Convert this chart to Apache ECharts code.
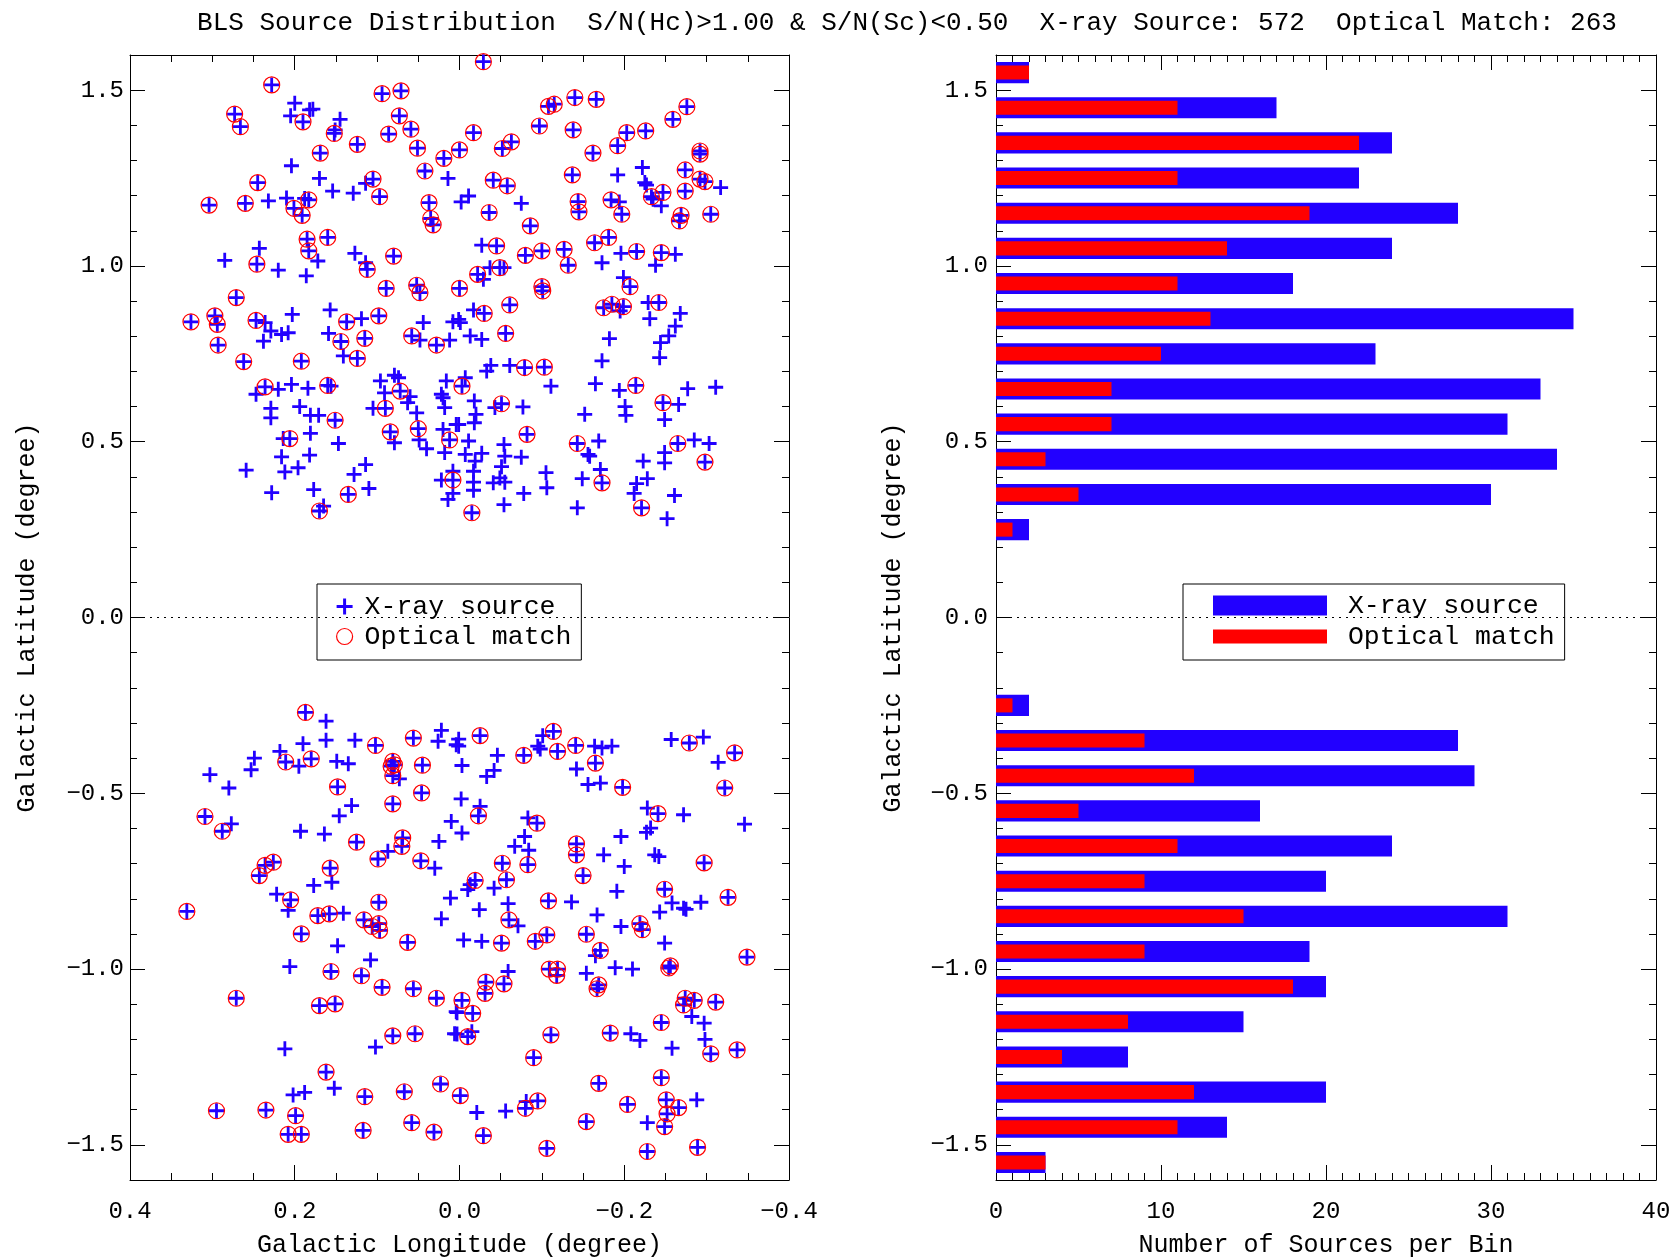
<!DOCTYPE html>
<html lang="en">
<head>
  <meta charset="UTF-8">
  <title>BLS Source Distribution</title>
  <style>
    html, body { margin: 0; padding: 0; background: #fff; }
    #chart { width: 1674px; height: 1257px; }
  </style>
</head>
<body>
<div id="chart"></div>
<script src="https://cdn.jsdelivr.net/npm/echarts@6/dist/echarts.min.js"></script>
<script>
  // X-ray sources with an optical match [l, b] (degree)
  const matchedSources = [
    [0.228,1.515],[0.273,1.432],[0.266,1.396],[0.190,1.410],[0.152,1.377],[0.124,1.346],[0.169,1.321],[0.094,1.490],[0.071,1.498],[0.073,1.427],
    [0.059,1.389],[0.086,1.375],[0.051,1.335],[0.019,1.306],[0.000,1.330],[0.042,1.270],[0.245,1.237],[0.105,1.247],[0.097,1.197],[0.304,1.173],
    [0.260,1.178],[0.183,1.188],[0.201,1.164],[0.191,1.144],[0.037,1.180],[0.035,1.135],[0.032,1.117],[0.185,1.076],[0.160,1.081],[0.183,1.043],
    [0.246,1.005],[0.112,0.990],[0.080,1.028],[0.089,0.936],[0.052,0.945],[0.048,0.924],[0.000,0.936],
    [-0.029,1.581],[-0.108,1.454],[-0.115,1.460],[-0.140,1.479],[-0.166,1.474],[-0.259,1.417],[-0.276,1.453],[-0.017,1.379],[-0.097,1.398],[-0.138,1.387],
    [-0.203,1.379],[-0.226,1.384],[-0.192,1.342],[-0.162,1.321],[-0.052,1.334],[-0.063,1.353],[-0.292,1.327],[-0.292,1.318],[-0.274,1.273],[-0.137,1.259],
    [-0.292,1.247],[-0.298,1.240],[-0.247,1.209],[-0.274,1.213],[-0.233,1.197],[-0.269,1.144],[-0.267,1.128],[-0.305,1.147],[-0.041,1.244],[-0.058,1.228],
    [-0.036,1.152],[-0.144,1.183],[-0.145,1.154],[-0.184,1.188],[-0.197,1.147],[-0.086,1.114],[-0.045,1.057],[-0.080,1.030],[-0.100,1.043],[-0.127,1.047],
    [-0.132,1.002],[-0.164,1.066],[-0.181,1.081],[-0.215,1.041],[-0.245,1.038],[-0.022,0.976],[-0.049,0.995],[-0.207,0.941],[-0.100,0.941],[-0.101,0.929],
    [0.271,0.910],[0.326,0.841],[0.297,0.858],[0.294,0.834],[0.293,0.775],[0.262,0.728],[0.247,0.845],[0.192,0.729],[0.137,0.841],[0.144,0.785],
    [0.124,0.737],[0.115,0.794],[0.098,0.858],[0.058,0.801],[0.028,0.775],[0.236,0.656],[0.160,0.660],[0.151,0.561],[0.206,0.509],[0.170,0.303],
    [0.135,0.350],[0.072,0.644],[0.090,0.595],[0.084,0.528],[0.050,0.537],[0.012,0.505],[0.008,0.391],
    [-0.030,0.865],[-0.061,0.889],[-0.056,0.808],[-0.175,0.881],[-0.185,0.891],[-0.199,0.884],[-0.242,0.896],[-0.079,0.711],[-0.103,0.712],[-0.003,0.658],
    [-0.214,0.660],[-0.051,0.608],[-0.247,0.611],[-0.082,0.521],[-0.015,0.298],[-0.143,0.495],[-0.173,0.383],[-0.221,0.312],[-0.265,0.495],[-0.298,0.442],
    [0.187,-0.270],[0.211,-0.411],[0.180,-0.402],[0.102,-0.364],[0.056,-0.343],[0.081,-0.409],[0.083,-0.423],[0.079,-0.419],[0.081,-0.450],[0.045,-0.420],
    [0.046,-0.499],[0.081,-0.530],[0.148,-0.482],[0.309,-0.566],[0.288,-0.608],[0.125,-0.639],[0.069,-0.627],[0.070,-0.651],[0.099,-0.687],[0.047,-0.692],
    [0.243,-0.734],[0.236,-0.705],[0.226,-0.696],[0.157,-0.713],[0.205,-0.803],[0.331,-0.836],[0.172,-0.848],[0.158,-0.843],[0.098,-0.810],[0.116,-0.860],
    [0.106,-0.879],[0.098,-0.871],[0.097,-0.890],[0.192,-0.900],[0.063,-0.924],
    [-0.025,-0.336],[-0.114,-0.324],[-0.119,-0.381],[-0.078,-0.392],[-0.141,-0.364],[-0.165,-0.414],[-0.198,-0.483],[-0.279,-0.357],[-0.334,-0.385],[-0.322,-0.485],
    [-0.023,-0.564],[-0.094,-0.585],[-0.052,-0.699],[-0.083,-0.703],[-0.057,-0.746],[-0.019,-0.748],[-0.060,-0.860],[-0.108,-0.806],[-0.142,-0.644],[-0.142,-0.675],
    [-0.150,-0.734],[-0.241,-0.558],[-0.297,-0.698],[-0.249,-0.773],[-0.326,-0.796],[-0.219,-0.871],[-0.222,-0.888],[-0.106,-0.903],[-0.154,-0.901],[-0.092,-0.921],
    [-0.051,-0.926],
    [0.156,-1.007],[0.119,-1.019],[0.094,-1.052],[0.056,-1.056],[0.028,-1.083],[0.271,-1.083],[0.170,-1.104],[0.151,-1.099],[0.081,-1.190],[0.054,-1.184],
    [0.162,-1.293],[0.115,-1.363],[0.067,-1.349],[0.023,-1.327],[0.295,-1.403],[0.235,-1.401],[0.199,-1.417],[0.208,-1.470],[0.192,-1.470],[0.117,-1.459],
    [0.058,-1.437],[0.031,-1.464],
    [-0.171,-0.947],[-0.349,-0.966],[-0.109,-1.000],[-0.119,-1.000],[-0.118,-1.018],[-0.256,-0.991],[-0.254,-0.997],[-0.032,-1.037],[-0.031,-1.069],[-0.054,-1.042],
    [-0.169,-1.045],[-0.167,-1.056],[-0.003,-1.089],[-0.016,-1.126],[-0.274,-1.083],[-0.272,-1.102],[-0.285,-1.089],[-0.311,-1.094],[-0.245,-1.152],[-0.010,-1.192],
    [-0.111,-1.187],[-0.183,-1.182],[-0.305,-1.241],[-0.337,-1.230],[-0.090,-1.252],[-0.169,-1.325],[-0.245,-1.309],[-0.001,-1.360],[-0.080,-1.396],[-0.095,-1.375],
    [-0.204,-1.385],[-0.251,-1.372],[-0.266,-1.394],[-0.252,-1.412],[-0.249,-1.448],[-0.154,-1.434],[-0.029,-1.474],[-0.106,-1.510],[-0.228,-1.519],[-0.289,-1.507]
  ];

  // X-ray sources without optical match
  const unmatchedSources = [
    [0.200,1.463],[0.205,1.427],[0.182,1.444],[0.178,1.446],[0.145,1.417],[0.151,1.387],[0.014,1.249],[0.204,1.285],[0.170,1.249],[0.154,1.213],
    [0.129,1.207],[0.114,1.235],[0.232,1.185],[0.210,1.193],[0.188,1.192],[0.172,1.014],[0.243,1.050],[0.285,1.016],[0.220,0.988],[0.186,0.972],
    [0.127,1.036],[0.114,1.009],
    [-0.192,1.259],[-0.222,1.280],[-0.225,1.237],[-0.227,1.230],[-0.317,1.223],[-0.235,1.190],[-0.245,1.171],[-0.011,1.199],[-0.002,1.182],[-0.075,1.178],
    [-0.194,1.182],[-0.027,1.059],[-0.173,1.009],[-0.196,1.036],[-0.262,1.033],[-0.238,1.002],[-0.029,0.962],[-0.037,0.995],[-0.054,0.995],[-0.199,0.967],
    [0.236,0.839],[0.229,0.815],[0.238,0.786],[0.216,0.805],[0.208,0.810],[0.203,0.862],[0.157,0.875],[0.159,0.808],[0.119,0.850],[0.141,0.744],
    [0.044,0.839],[0.048,0.789],[0.012,0.789],[0.008,0.841],[0.247,0.635],[0.220,0.649],[0.204,0.663],[0.184,0.652],[0.156,0.658],[0.229,0.595],
    [0.229,0.568],[0.194,0.600],[0.181,0.575],[0.171,0.575],[0.214,0.509],[0.181,0.524],[0.147,0.495],[0.216,0.457],[0.182,0.462],[0.259,0.419],
    [0.212,0.414],[0.196,0.426],[0.228,0.355],[0.177,0.364],[0.165,0.317],[0.128,0.407],[0.114,0.435],[0.110,0.367],[0.096,0.673],[0.079,0.689],
    [0.074,0.682],[0.091,0.639],[0.060,0.628],[0.063,0.611],[0.105,0.595],[0.052,0.582],[0.079,0.497],[0.049,0.505],[0.040,0.480],[0.016,0.673],
    [0.022,0.635],[0.020,0.625],[0.018,0.597],[0.020,0.535],[0.004,0.549],[0.018,0.469],[0.008,0.416],[0.022,0.391],[0.014,0.336],[0.008,0.353],
    [-0.017,0.875],[0.001,0.848],[-0.001,0.839],[-0.013,0.801],[-0.027,0.791],[-0.195,0.872],[-0.229,0.896],[-0.231,0.850],[-0.268,0.865],[-0.262,0.829],
    [-0.254,0.801],[-0.244,0.782],[-0.243,0.739],[-0.182,0.793],[-0.173,0.730],[-0.033,0.701],[-0.038,0.717],[-0.061,0.717],[-0.111,0.658],[-0.007,0.682],
    [-0.165,0.665],[-0.194,0.646],[-0.277,0.651],[-0.311,0.655],[-0.018,0.616],[-0.020,0.578],[-0.018,0.554],[0.001,0.549],[-0.043,0.597],[-0.077,0.599],
    [-0.152,0.578],[-0.201,0.600],[-0.202,0.575],[-0.266,0.606],[-0.249,0.563],[-0.011,0.502],[-0.007,0.464],[-0.027,0.467],[-0.019,0.445],[-0.054,0.492],
    [-0.055,0.459],[-0.075,0.456],[-0.051,0.429],[-0.017,0.416],[-0.017,0.385],[-0.017,0.362],[-0.041,0.383],[-0.055,0.385],[-0.049,0.397],[-0.054,0.321],
    [-0.078,0.353],[-0.105,0.412],[-0.106,0.369],[-0.169,0.502],[-0.156,0.464],[-0.158,0.459],[-0.171,0.421],[-0.149,0.395],[-0.143,0.312],[-0.215,0.381],
    [-0.228,0.395],[-0.212,0.353],[-0.223,0.445],[-0.249,0.469],[-0.249,0.440],[-0.261,0.347],[-0.252,0.281],[-0.285,0.505],[-0.303,0.495],
    [0.162,-0.295],[0.190,-0.359],[0.162,-0.349],[0.127,-0.349],[0.218,-0.381],[0.195,-0.423],[0.249,-0.400],[0.253,-0.433],[0.303,-0.447],[0.280,-0.485],
    [0.149,-0.409],[0.135,-0.416],[0.073,-0.459],[0.131,-0.535],[0.146,-0.564],[0.026,-0.352],[0.022,-0.321],[0.004,-0.362],[0.277,-0.587],[0.193,-0.608],
    [0.164,-0.616],[0.087,-0.665],[0.030,-0.713],[0.025,-0.637],[0.010,-0.580],[0.177,-0.762],[0.155,-0.753],[0.222,-0.787],[0.208,-0.833],[0.141,-0.841],
    [0.011,-0.798],[0.022,-0.857],[0.148,-0.934],
    [0.001,-0.346],[0.001,-0.366],[-0.101,-0.336],[-0.095,-0.366],[-0.098,-0.374],[-0.046,-0.392],[-0.003,-0.421],[-0.042,-0.435],[-0.033,-0.452],[-0.164,-0.366],
    [-0.173,-0.371],[-0.185,-0.366],[-0.142,-0.431],[-0.156,-0.475],[-0.171,-0.471],[-0.257,-0.347],[-0.296,-0.340],[-0.314,-0.412],[-0.002,-0.516],[-0.025,-0.537],
    [-0.003,-0.613],[-0.083,-0.570],[-0.079,-0.623],[-0.067,-0.651],[-0.084,-0.662],[-0.013,-0.760],[-0.010,-0.774],[-0.042,-0.770],[-0.024,-0.831],[-0.059,-0.814],
    [-0.071,-0.877],[-0.136,-0.809],[-0.175,-0.675],[-0.200,-0.708],[-0.191,-0.779],[-0.196,-0.623],[-0.228,-0.542],[-0.232,-0.599],[-0.227,-0.611],[-0.272,-0.561],
    [-0.346,-0.588],[-0.237,-0.675],[-0.242,-0.680],[-0.258,-0.812],[-0.272,-0.827],[-0.275,-0.830],[-0.293,-0.810],[-0.243,-0.838],[-0.167,-0.846],[-0.196,-0.879],
    [-0.005,-0.917],[-0.027,-0.921],[-0.249,-0.926],
    [0.206,-0.993],[0.108,-0.974],[0.004,-1.121],[0.006,-1.184],[0.212,-1.227],[0.102,-1.222],[0.202,-1.358],[0.188,-1.351],[0.152,-1.339],
    [-0.165,-0.962],[-0.059,-1.007],[-0.154,-1.012],[-0.189,-0.996],[-0.210,-1.000],[0.003,-1.124],[-0.282,-1.135],[-0.297,-1.154],[-0.298,-1.200],[-0.015,-1.178],
    [0.003,-1.185],[-0.208,-1.184],[-0.219,-1.203],[-0.258,-1.225],[-0.021,-1.408],[-0.056,-1.404],[-0.081,-1.377],[-0.228,-1.437],[-0.288,-1.372]
  ];

  // histogram: latitude bin centres and counts per bin
  const binCenters = [1.55, 1.45, 1.35, 1.25, 1.15, 1.05, 0.95, 0.85, 0.75, 0.65, 0.55, 0.45, 0.35, 0.25,
                      -0.25, -0.35, -0.45, -0.55, -0.65, -0.75, -0.85, -0.95, -1.05, -1.15, -1.25, -1.35, -1.45, -1.55];
  const xrayCounts = [2, 17, 24, 22, 28, 24, 18, 35, 23, 33, 31, 34, 30, 2,
                      2, 28, 29, 16, 24, 20, 31, 19, 20, 15, 8, 20, 14, 3];
  const opticalCounts = [2, 11, 22, 11, 19, 14, 11, 13, 10, 7, 7, 3, 5, 1,
                         1, 9, 12, 5, 11, 9, 15, 9, 18, 8, 4, 12, 11, 3];

  const latTicks = [-1.5, -1.0, -0.5, 0.0, 0.5, 1.0, 1.5];

  const titleText = 'BLS Source Distribution  S/N(Hc)>1.00 & S/N(Sc)<0.50  X-ray Source: 572  Optical Match: 263';

  const FONT = '"Liberation Mono", "DejaVu Sans Mono", monospace';
  const BLUE = '#2200ff';
  const RED = '#ff0000';
  const CROSS = 'path://M-1.4,-7.5H1.4V-1.4H7.5V1.4H1.4V7.5H-1.4V1.4H-7.5V-1.4H-1.4Z';

  function fmt(v) {
    if (Math.abs(v) < 1e-9) v = 0;
    return v.toFixed(1).replace('-', '\u2212');
  }

  const axisLine = { show: true, onZero: false, lineStyle: { color: '#000', width: 1 } };
  const labelStyle = { fontFamily: FONT, fontSize: 24, color: '#000' };
  const nameStyle = { fontFamily: FONT, fontSize: 25, color: '#000' };

  // latitude axes for one grid: major ticks on both sides + minor ticks on both sides
  function latAxes(grid, margin) {
    const base = { type: 'value', gridIndex: grid, min: -1.6, max: 1.6, splitLine: { show: false } };
    const major = function (pos, labels) {
      return Object.assign({}, base, {
        position: pos,
        axisLine: axisLine,
        axisTick: { show: true, inside: true, length: 15, customValues: latTicks, lineStyle: { color: '#000' } },
        axisLabel: labels ? Object.assign({ show: true, customValues: latTicks, formatter: fmt, margin: margin }, labelStyle) : { show: false },
        name: labels ? 'Galactic Latitude (degree)' : '',
        nameLocation: 'middle',
        nameGap: 90,
        nameTextStyle: nameStyle
      });
    };
    const minor = function (pos) {
      return Object.assign({}, base, {
        position: pos,
        interval: 0.1,
        axisLine: { show: false, onZero: false },
        axisTick: { show: true, inside: true, length: 7, lineStyle: { color: '#000' } },
        axisLabel: { show: false }
      });
    };
    return [major('left', true), major('right', false), minor('left'), minor('right')];
  }

  function xAxes(grid, opts, formatter) {
    const mk = function (pos, labels) {
      return {
        type: 'value', gridIndex: grid, position: pos,
        min: opts.min, max: opts.max, interval: opts.interval, inverse: !!opts.inverse,
        axisLine: axisLine,
        axisTick: { show: true, inside: true, length: 15, lineStyle: { color: '#000' } },
        minorTick: { show: true, splitNumber: opts.minorSplit, length: 7, lineStyle: { color: '#000' } },
        splitLine: { show: false },
        axisLabel: labels ? Object.assign({ show: true, margin: 20, formatter: formatter || undefined }, labelStyle) : { show: false },
        name: labels ? opts.name : '',
        nameLocation: 'middle',
        nameGap: 53,
        nameTextStyle: nameStyle
      };
    };
    return [mk('bottom', true), mk('top', false)];
  }

  function barRenderer(thickness) {
    return function (params, api) {
      const b = api.value(1);
      const p0 = api.coord([0, b + thickness / 2]);
      const p1 = api.coord([api.value(0), b - thickness / 2]);
      return {
        type: 'rect',
        shape: { x: p0[0], y: p0[1], width: p1[0] - p0[0], height: p1[1] - p0[1] },
        style: api.style()
      };
    };
  }

  const zeroLine = {
    silent: true, symbol: 'none', label: { show: false },
    lineStyle: { color: '#000', type: [2, 5], width: 1 },
    data: [{ yAxis: 0 }]
  };

  const chart = echarts.init(document.getElementById('chart'));

  const legendText = { fontFamily: FONT, fontSize: 26.5, color: '#000', lineHeight: 26 };

  const option = {
    animation: false,
    backgroundColor: '#fff',
    title: {
      text: titleText, left: 907, top: 10, padding: 0, textAlign: 'center',
      textStyle: { fontFamily: FONT, fontSize: 26, fontWeight: 'normal', color: '#000' }
    },
    legend: [
      {
        orient: 'vertical', left: 317, top: 584, padding: [9, 10, 10, 19], itemGap: 3,
        itemWidth: 30, itemHeight: 16, borderColor: '#000', borderWidth: 1, selectedMode: false,
        textStyle: legendText,
        data: [
          { name: 'X-ray source', icon: CROSS, itemStyle: { color: BLUE, opacity: 1 } },
          { name: 'Optical match', icon: 'circle', itemStyle: { color: 'rgba(0,0,0,0)', borderColor: RED, borderWidth: 1.2, opacity: 1 } }
        ]
      },
      {
        orient: 'vertical', left: 1183, top: 584, padding: [8, 10, 10, 30], itemGap: 4,
        itemWidth: 114, itemHeight: 20, borderColor: '#000', borderWidth: 1, selectedMode: false,
        formatter: ' {name}',
        textStyle: legendText,
        data: [
          { name: 'X-ray source', icon: 'rect', itemStyle: { color: BLUE, borderWidth: 0, opacity: 1 } },
          { name: 'Optical match', icon: 'path://M0,0H114V14H0Z', itemStyle: { color: RED, borderWidth: 0, opacity: 1 } }
        ]
      }
    ],
    grid: [
      { left: 130, top: 55, width: 659, height: 1125, outerBoundsMode: 'none', containLabel: false },
      { left: 996, top: 55, width: 660, height: 1125, outerBoundsMode: 'none', containLabel: false }
    ],
    xAxis: [].concat(
      xAxes(0, { min: -0.4, max: 0.4, interval: 0.2, inverse: true, minorSplit: 4, name: 'Galactic Longitude (degree)' }, fmt),
      xAxes(1, { min: 0, max: 40, interval: 10, minorSplit: 10, name: 'Number of Sources per Bin' }, null)
    ),
    yAxis: [].concat(latAxes(0, 6), latAxes(1, 8)),
    series: [
      {
        name: 'X-ray source', type: 'scatter', xAxisIndex: 0, yAxisIndex: 0,
        symbol: CROSS, symbolSize: 15, itemStyle: { color: BLUE, opacity: 1 },
        data: unmatchedSources.concat(matchedSources),
        markLine: zeroLine, silent: true
      },
      {
        name: 'Optical match', type: 'scatter', xAxisIndex: 0, yAxisIndex: 0,
        symbol: 'circle', symbolSize: 16,
        itemStyle: { color: 'rgba(0,0,0,0)', borderColor: RED, borderWidth: 1.2, opacity: 1 },
        data: matchedSources, silent: true
      },
      {
        name: 'X-ray source', type: 'custom', xAxisIndex: 2, yAxisIndex: 4,
        renderItem: barRenderer(0.06), itemStyle: { color: BLUE },
        encode: { x: 0, y: 1 },
        data: binCenters.map(function (b, i) { return [xrayCounts[i], b]; }),
        markLine: zeroLine, silent: true
      },
      {
        name: 'Optical match', type: 'custom', xAxisIndex: 2, yAxisIndex: 4,
        renderItem: barRenderer(0.04), itemStyle: { color: RED },
        encode: { x: 0, y: 1 },
        data: binCenters.map(function (b, i) { return [opticalCounts[i], b]; }),
        silent: true
      }
    ]
  };

  chart.setOption(option);
</script>
</body>
</html>
